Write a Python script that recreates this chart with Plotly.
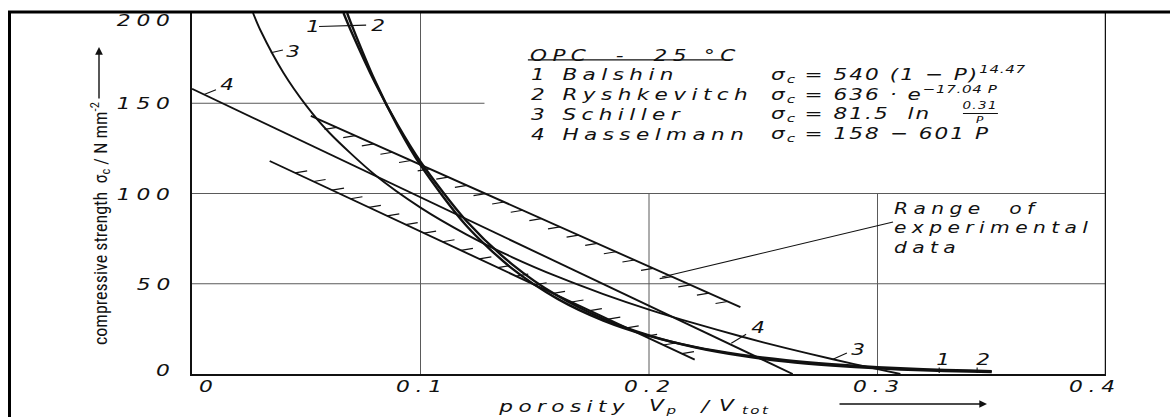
import numpy as np
import plotly.graph_objects as go

# ---- data -------------------------------------------------------------
# porosity P (-) and compressive strength sigma_c (N/mm^2) along each model curve
BALSHIN_P = [0.0663, 0.07, 0.08, 0.09, 0.10, 0.12, 0.14, 0.16, 0.18, 0.20, 0.22, 0.24, 0.26, 0.28, 0.30, 0.32, 0.34, 0.35]
BALSHIN_S = [200.0, 188.9, 161.6, 138.0, 117.6, 84.9, 60.9, 43.3, 30.6, 21.4, 14.8, 10.2, 6.9, 4.7, 3.1, 2.0, 1.3, 1.1]

RYSH_P = [0.0679, 0.07, 0.08, 0.09, 0.10, 0.12, 0.14, 0.16, 0.18, 0.20, 0.22, 0.24, 0.26, 0.28, 0.30, 0.32, 0.34, 0.35]
RYSH_S = [200.0, 193.0, 162.7, 137.2, 115.7, 82.3, 58.5, 41.6, 29.6, 21.1, 15.0, 10.7, 7.6, 5.4, 3.8, 2.7, 1.9, 1.6]

SCHILLER_P = [0.0267, 0.03, 0.04, 0.05, 0.06, 0.08, 0.10, 0.12, 0.14, 0.16, 0.18, 0.20, 0.22, 0.24, 0.26, 0.28, 0.30, 0.31]
SCHILLER_S = [200.0, 190.3, 166.9, 148.7, 133.8, 110.4, 92.2, 77.4, 64.8, 53.9, 44.3, 35.7, 28.0, 20.9, 14.3, 8.3, 2.7, 0.0]

HASSEL_P = [0.0, 0.2629]
HASSEL_S = [158.0, 0.0]

# bounds of the experimental scatter band
BAND_UPPER_P = [0.052, 0.240]
BAND_UPPER_S = [143.0, 37.0]
BAND_LOWER_P = [0.034, 0.220]
BAND_LOWER_S = [118.0, 8.0]

X_TICKS = [0, 0.1, 0.2, 0.3, 0.4]
X_TICK_TEXT = ["0", "0.1", "0.2", "0.3", "0.4"]
Y_TICKS = [0, 50, 100, 150, 200]
Y_TICK_TEXT = ["0", "50", "100", "150", "200"]

LEGEND_TITLE = "OPC  -  25 °C"
MODEL_NAMES = ["1 Balshin", "2 Ryshkevitch", "3 Schiller", "4 Hasselmann"]
MODEL_FORMULAS = [
    "σ<sub>c</sub> = 540 (1 − P)<sup>14.47</sup>",
    "σ<sub>c</sub> = 636 · e<sup>−17.04 P</sup>",
    "σ<sub>c</sub> = 81.5  ln",
    "σ<sub>c</sub> = 158 − 601 P",
]
RANGE_TEXT = "Range  of<br>experimental<br>data"

# ---- style ------------------------------------------------------------
INK = "#111111"
GRID = "#5a5a5a"
DRAFT = "DejaVu Sans"
NARROW = "Liberation Sans Narrow, Roboto Condensed, Arial Narrow, sans-serif"
W, H = 1170, 417
ML, MR, MT, MB = 192, 64, 13, 43
PW, PH = W - ML - MR, H - MT - MB
XMAX, YMAX = 0.4, 200.0


def px_x(px):
    """pixel column -> paper x"""
    return (px - ML) / PW


def px_y(py):
    """pixel row -> paper y"""
    return (H - MB - py) / PH


def text(x, y, s, size=16, ls=None, sx=1.35, xanchor="left", yanchor="middle",
         xref="x", yref="y", family=DRAFT, italic=True, xshift=0, yshift=0, angle=0):
    a = dict(x=x, y=y, xref=xref, yref=yref, text=s, showarrow=False,
             xanchor=xanchor, yanchor=yanchor, align=xanchor,
             font=dict(family=family, size=size, color=INK,
                       style="italic" if italic else "normal"),
             xshift=xshift, yshift=yshift, textangle=angle)
    if ls is not None:
        # drafting lettering: letter spacing + horizontal stretch
        a["name"] = "d%g_%g" % (ls, sx)
    return a


fig = go.Figure()

# model curves
fig.add_trace(go.Scatter(x=BALSHIN_P, y=BALSHIN_S, mode="lines",
                         line=dict(color=INK, width=2.4, shape="spline", smoothing=0.8)))
fig.add_trace(go.Scatter(x=RYSH_P, y=RYSH_S, mode="lines",
                         line=dict(color=INK, width=2.4, shape="spline", smoothing=0.8)))
fig.add_trace(go.Scatter(x=SCHILLER_P, y=SCHILLER_S, mode="lines",
                         line=dict(color=INK, width=1.9, shape="spline", smoothing=0.8)))
fig.add_trace(go.Scatter(x=HASSEL_P, y=HASSEL_S, mode="lines",
                         line=dict(color=INK, width=1.9)))

# band edges
fig.add_trace(go.Scatter(x=BAND_UPPER_P, y=BAND_UPPER_S, mode="lines",
                         line=dict(color=INK, width=1.9)))
fig.add_trace(go.Scatter(x=BAND_LOWER_P, y=BAND_LOWER_S, mode="lines",
                         line=dict(color=INK, width=1.9)))

# hatch strokes pointing into the band
HATCH_DX = 12 / PW * XMAX
HATCH_DY = 2 / PH * YMAX


def hatch(p, s, side, n):
    t = np.linspace(0.06, 0.97, n)
    xs = p[0] + t * (p[1] - p[0])
    ys = s[0] + t * (s[1] - s[0])
    hx, hy = [], []
    for xi, yi in zip(xs, ys):
        hx += [xi, xi + side * HATCH_DX, None]
        hy += [yi, yi + side * HATCH_DY, None]
    return hx, hy


for p, s, side in [(BAND_UPPER_P, BAND_UPPER_S, -1), (BAND_LOWER_P, BAND_LOWER_S, 1)]:
    hx, hy = hatch(p, s, side, 22)
    fig.add_trace(go.Scatter(x=hx, y=hy, mode="lines",
                             line=dict(color=INK, width=1.2)))

shapes = []
# partial grid (upper right kept clear for the key)
for v in X_TICKS[1:-1]:
    top = YMAX if v < 0.15 else 100
    shapes.append(dict(type="line", xref="x", yref="y", x0=v, x1=v, y0=0, y1=top,
                       line=dict(color=GRID, width=1), layer="below"))
for v in Y_TICKS[1:-1]:
    right = 0.128 if v > 120 else XMAX
    shapes.append(dict(type="line", xref="x", yref="y", x0=0, x1=right, y0=v, y1=v,
                       line=dict(color=GRID, width=1), layer="below"))
# right border of the diagram
shapes.append(dict(type="line", xref="x", yref="y", x0=XMAX, x1=XMAX, y0=0, y1=YMAX,
                   line=dict(color=INK, width=2.5)))
# outer frame
shapes.append(dict(type="line", xref="paper", yref="paper", x0=px_x(8), x1=px_x(W + 5),
                   y0=px_y(12), y1=px_y(12), line=dict(color="#000", width=3)))
shapes.append(dict(type="line", xref="paper", yref="paper", x0=px_x(9.5), x1=px_x(9.5),
                   y0=px_y(12), y1=px_y(H + 5), line=dict(color="#000", width=3)))

# key underline and fraction bar
shapes.append(dict(type="line", xref="x", yref="y", x0=0.147, x1=0.2355, y0=174.0, y1=174.0,
                   line=dict(color=INK, width=1.3)))
shapes.append(dict(type="line", xref="x", yref="y", x0=0.3374, x1=0.3527, y0=144.3, y1=144.3,
                   line=dict(color=INK, width=1.1)))

# curve-label leaders
leaders = [
    (0.0556, 192.5, 0.0762, 193.3),   # 1 / 2 at the top
    (0.0345, 178.0, 0.0398, 179.5),   # 3 at the top
    (0.0053, 154.8, 0.0105, 157.5),   # 4 at the top
    (0.2360, 17.0, 0.2425, 22.0),     # 4 at the bottom
    (0.2805, 8.2, 0.2866, 11.6),      # 3 at the bottom
    (0.3270, 0.6, 0.3270, 3.6),       # 1 at the bottom
    (0.3436, 0.6, 0.3436, 3.6),       # 2 at the bottom
    (0.2057, 53.7, 0.3068, 84.2),     # range of experimental data
]
for x0, y0, x1, y1 in leaders:
    shapes.append(dict(type="line", xref="x", yref="y", x0=x0, y0=y0, x1=x1, y1=y1,
                       line=dict(color=INK, width=1.1)))

ann = []
# tick labels
for v, t in zip(X_TICKS, X_TICK_TEXT):
    if v == X_TICKS[0]:
        ann.append(text(v, 0, t, size=15, ls=4, sx=1.45, xanchor="left", xshift=5, yshift=-13))
    elif v == X_TICKS[-1]:
        ann.append(text(v, 0, t, size=15, ls=4, sx=1.45, xanchor="right", xshift=17, yshift=-13))
    else:
        ann.append(text(v, 0, t, size=15, ls=4, sx=1.45, xanchor="center", xshift=1, yshift=-13))
for v, t in zip(Y_TICKS, Y_TICK_TEXT):
    dy = -8 if v == Y_TICKS[-1] else (3 if v == 0 else -1)
    ann.append(text(0, v, t, size=15, ls=4, sx=1.45, xanchor="right", xshift=-14, yshift=dy))

# axis titles
ann.append(text(px_x(496), px_y(406), "porosity", size=16, ls=4, xref="paper", yref="paper"))
ann.append(text(px_x(647), px_y(406), "V<sub>p</sub>", size=16, ls=2, xref="paper", yref="paper"))
ann.append(text(px_x(697), px_y(406), "/", size=16, ls=0, xref="paper", yref="paper"))
ann.append(text(px_x(717), px_y(406), "V<sub>tot</sub>", size=16, ls=6, xref="paper", yref="paper"))
ann.append(dict(x=px_x(987), y=px_y(404), xref="paper", yref="paper", text="",
                showarrow=True, ax=-149, ay=0, arrowhead=2, arrowsize=1.1,
                arrowwidth=1.4, arrowcolor=INK))
ann.append(text(px_x(100), px_y(224), "compressive strength  σ<sub>c</sub> / N mm<sup>-2</sup>",
                size=18, xanchor="center", xref="paper", yref="paper",
                family=NARROW, italic=False, angle=-90))
ann.append(dict(x=px_x(99), y=px_y(47), xref="paper", yref="paper", text="",
                showarrow=True, ax=0, ay=53, arrowhead=2, arrowsize=1.1,
                arrowwidth=1.4, arrowcolor=INK))

# key
ann.append(text(0.147, 176.7, LEGEND_TITLE, size=16, ls=4))
rows_s = [165.7, 154.6, 143.5, 132.6]
for name, formula, s in zip(MODEL_NAMES, MODEL_FORMULAS, rows_s):
    ann.append(text(0.1475, s, name, size=16, ls=4))
    ann.append(text(0.2525, s, formula, size=16, ls=1.5))
ann.append(text(0.345, 148.8, "0.31", size=10, ls=1, xanchor="center"))
ann.append(text(0.345, 141.0, "P", size=9, ls=0, xanchor="center"))

# curve numbers
for x, y, t in [(0.053, 192.8, "1"), (0.0814, 193.3, "2"), (0.0442, 178.4, "3"),
                (0.0153, 160.5, "4"), (0.2477, 26.0, "4"), (0.2915, 13.3, "3"),
                (0.3287, 7.8, "1"), (0.3462, 7.8, "2")]:
    ann.append(text(x, y, t, size=16, ls=0, xanchor="center"))

ann.append(text(0.3065, 80.5, RANGE_TEXT, size=15, ls=4))

fig.update_layout(
    width=W, height=H,
    margin=dict(l=ML, r=MR, t=MT, b=MB),
    paper_bgcolor="white", plot_bgcolor="white",
    showlegend=False,
    shapes=shapes, annotations=ann,
    xaxis=dict(range=[0, XMAX], showgrid=False, zeroline=False, showticklabels=False,
               ticks="", showline=True, linecolor=INK, linewidth=2.2),
    yaxis=dict(range=[0, YMAX], showgrid=False, zeroline=False, showticklabels=False,
               ticks="", showline=True, linecolor=INK, linewidth=2.5),
)

# wide drafting-style lettering: per-annotation letter spacing and stretch
DRAFTING_JS = """
var gd = document.getElementById('{plot_id}');
var anns = (gd.layout && gd.layout.annotations) || [];
var origin = {left: 'left center', right: 'right center', center: 'center center'};
anns.forEach(function(a, i) {
  if (!a.name || a.name.charAt(0) !== 'd') return;
  var parts = a.name.slice(1).split('_');
  var ls = parseFloat(parts[0]), sx = parseFloat(parts[1]);
  var g = gd.querySelector('.annotation[data-index="' + i + '"]');
  if (!g) return;
  g.querySelectorAll('text.annotation-text').forEach(function(t) {
    t.style.letterSpacing = ls + 'px';
    t.style.transformBox = 'fill-box';
    t.style.transformOrigin = origin[a.xanchor] || 'center center';
    t.style.transform = 'scaleX(' + sx + ')';
    t.querySelectorAll('tspan').forEach(function(s) {
      var st = s.getAttribute('style') || '';
      if (st.indexOf('font-size') >= 0) s.style.letterSpacing = (ls * 0.3) + 'px';
    });
  });
});
"""

fig.write_html("out.html", post_script=DRAFTING_JS,
               config={"displayModeBar": False, "staticPlot": True})
